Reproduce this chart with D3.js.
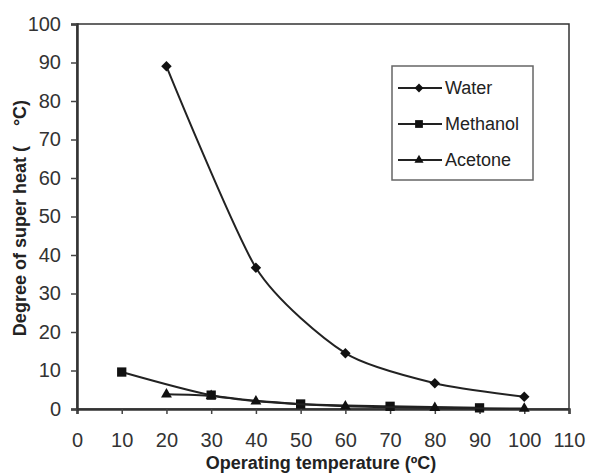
<!DOCTYPE html>
<html>
<head>
<meta charset="utf-8">
<script src="https://cdn.jsdelivr.net/npm/d3@7"></script>
<style>
  body { margin: 0; background: #fff; }
  text { font-family: Arial, "Liberation Sans", sans-serif; }
</style>
</head>
<body>
<div id="chart"></div>
<script>
// data
const waterX = [20, 40, 60, 80, 100];
const waterY = [89, 36.7, 14.5, 6.7, 3.2];
const methanolX = [10, 30, 50, 70, 90];
const methanolY = [9.6, 3.6, 1.3, 0.7, 0.3];
const acetoneX = [20, 30, 40, 60, 80, 100];
const acetoneY = [3.8, 3.4, 2.0, 0.7, 0.3, 0.1];
const xTicks = [0, 10, 20, 30, 40, 50, 60, 70, 80, 90, 100, 110];
const yTicks = [0, 10, 20, 30, 40, 50, 60, 70, 80, 90, 100];
const seriesNames = ["Water", "Methanol", "Acetone"];

let width = 590, height = 475;
let margin = {top: 24, right: 21, bottom: 66, left: 77};
let innerWidth = width - margin.left - margin.right;
let innerHeight = height - margin.top - margin.bottom;

let svg = d3.select("#chart").append("svg")
    .attr("width", width)
    .attr("height", height);

let g = svg.append("g")
    .attr("transform", "translate(" + margin.left + "," + margin.top + ")");

let xScale = d3.scaleLinear().domain([0, 110]).range([0, innerWidth]);
let yScale = d3.scaleLinear().domain([0, 100]).range([innerHeight, 0]);

// plot frame
g.append("rect")
    .attr("width", innerWidth)
    .attr("height", innerHeight)
    .attr("fill", "none")
    .attr("stroke", "#333")
    .attr("stroke-width", 1.5);

let xAxis = d3.axisBottom(xScale).tickValues(xTicks).tickSize(5).tickPadding(19);
let yAxis = d3.axisLeft(yScale).tickValues(yTicks).tickSize(6).tickPadding(10);

let gx = g.append("g").attr("class", "x-axis axis")
    .attr("transform", "translate(0," + innerHeight + ")")
    .call(xAxis);
let gy = g.append("g").attr("class", "y-axis axis").call(yAxis);

[gx, gy].forEach(a => {
    a.select(".domain").attr("stroke", "#333").attr("stroke-width", 2.5);
    a.selectAll(".tick line").attr("stroke", "#444").attr("stroke-width", 1.5);
    a.selectAll(".tick text")
        .attr("font-size", 20)
        .attr("fill", "#333")
        .style("font-family", "Arial, 'Liberation Sans', sans-serif");
});

// series
let series = [
    {name: seriesNames[0], xs: waterX, ys: waterY, symbol: d3.symbolDiamond2, size: 70},
    {name: seriesNames[1], xs: methanolX, ys: methanolY, symbol: d3.symbolSquare2, size: 110},
    {name: seriesNames[2], xs: acetoneX, ys: acetoneY, symbol: d3.symbolTriangle2, size: 85}
];

let line = d3.line()
    .x(d => xScale(d[0]))
    .y(d => yScale(d[1]))
    .curve(d3.curveCardinal.tension(0.3));

series.forEach(s => {
    let pts = s.xs.map((x, i) => [x, s.ys[i]]);
    g.append("path")
        .datum(pts)
        .attr("fill", "none")
        .attr("stroke", "#222")
        .attr("stroke-width", 2)
        .attr("d", line);
    g.selectAll(null)
        .data(pts)
        .join("path")
        .attr("transform", d => "translate(" + xScale(d[0]) + "," + yScale(d[1]) + ")")
        .attr("d", d3.symbol().type(s.symbol).size(s.size))
        .attr("fill", "#111");
});

// legend
let legend = svg.append("g").attr("transform", "translate(392,66)");
legend.append("rect")
    .attr("width", 141)
    .attr("height", 114)
    .attr("fill", "#fff")
    .attr("stroke", "#666")
    .attr("stroke-width", 1.5);
series.forEach((s, i) => {
    let row = legend.append("g").attr("transform", "translate(0," + (22 + i * 36) + ")");
    row.append("line")
        .attr("x1", 6).attr("x2", 50)
        .attr("stroke", "#222").attr("stroke-width", 2);
    row.append("path")
        .attr("transform", "translate(27,0)")
        .attr("d", d3.symbol().type(s.symbol).size(s.size * 0.7))
        .attr("fill", "#111");
    row.append("text")
        .attr("x", 53)
        .attr("dy", "0.36em")
        .attr("font-size", 18)
        .attr("fill", "#222")
        .text(s.name);
});

// axis titles
svg.append("text")
    .attr("x", 321)
    .attr("y", 469)
    .attr("text-anchor", "middle")
    .attr("font-size", 18)
    .attr("font-weight", "bold")
    .attr("fill", "#222")
    .text("Operating temperature (ºC)");

svg.append("text")
    .attr("transform", "translate(26,218) rotate(-90)")
    .attr("text-anchor", "middle")
    .attr("font-size", 18)
    .attr("font-weight", "bold")
    .attr("fill", "#222")
    .attr("xml:space", "preserve")
    .style("white-space", "pre")
    .text("Degree of super heat (    °C)");
</script>
</body>
</html>
